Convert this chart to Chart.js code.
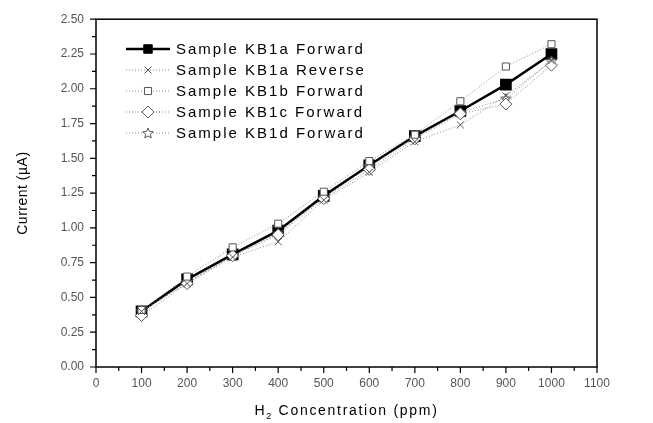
<!DOCTYPE html>
<html>
<head>
<meta charset="utf-8">
<script src="https://cdn.jsdelivr.net/npm/chart.js@4"></script>
<style>
  html, body { margin: 0; padding: 0; background: #fff; overflow: hidden; }
  #wrap { width: 653px; height: 423px; position: relative; }
</style>
</head>
<body>
<div id="wrap"><canvas id="ivChart"></canvas></div>
<script>
// H2 concentration (ppm)
const concentration = [100, 200, 300, 400, 500, 600, 700, 800, 900, 1000];

// Current (uA) per sample
const kb1aForward = [0.40, 0.63, 0.81, 0.98, 1.23, 1.45, 1.66, 1.84, 2.03, 2.25];
const kb1aReverse = [0.40, 0.60, 0.79, 0.90, 1.20, 1.40, 1.62, 1.74, 1.95, 2.20];
const kb1bForward = [0.41, 0.65, 0.86, 1.03, 1.26, 1.48, 1.67, 1.91, 2.16, 2.32];
const kb1cForward = [0.37, 0.60, 0.80, 0.95, 1.21, 1.42, 1.64, 1.82, 1.89, 2.17];
const kb1dForward = [0.40, 0.61, 0.80, 0.96, 1.22, 1.44, 1.65, 1.83, 1.93, 2.20];

const seriesLabels = [
  'Sample KB1a Forward',
  'Sample KB1a Reverse',
  'Sample KB1b Forward',
  'Sample KB1c Forward',
  'Sample KB1d Forward'
];

// axis ranges / ticks
const xMin = 0, xMax = 1100, xMajor = 100, xMinor = 50;
const yMin = 0, yMax = 2.5, yMajor = 0.25, yMinor = 0.125;

const FONT = '"Liberation Sans", Arial, sans-serif';
const GREY = '#8a8a8a';

function toPoints(ys) {
  return concentration.map((x, i) => ({ x: x, y: ys[i] }));
}

// open five-point star marker
function makeStar(size) {
  const c = document.createElement('canvas');
  c.width = size; c.height = size;
  const g = c.getContext('2d');
  const cx = size / 2, cy = size / 2 + 0.5, R = size / 2 - 0.5, r = R * 0.45;
  g.beginPath();
  for (let i = 0; i < 10; i++) {
    const a = -Math.PI / 2 + i * Math.PI / 5;
    const rad = i % 2 === 0 ? R : r;
    g.lineTo(cx + rad * Math.cos(a), cy + rad * Math.sin(a));
  }
  g.closePath();
  g.fillStyle = '#fff';
  g.fill();
  g.strokeStyle = '#555';
  g.lineWidth = 1;
  g.stroke();
  return c;
}
const starImg = makeStar(12);

// legend marker drawing (same shapes as the plot)
function drawMarker(ctx, style, r, x, y, fill, stroke) {
  ctx.save();
  ctx.fillStyle = fill;
  ctx.strokeStyle = stroke;
  ctx.lineWidth = 1;
  ctx.beginPath();
  if (style instanceof HTMLCanvasElement) {
    ctx.drawImage(style, x - style.width / 2, y - style.height / 2);
    ctx.restore();
    return;
  }
  const s = r / Math.SQRT2;
  if (style === 'rect') {
    ctx.rect(x - s, y - s, 2 * s, 2 * s);
    ctx.fill(); ctx.stroke();
  } else if (style === 'rectRot') {
    ctx.moveTo(x, y - r); ctx.lineTo(x + r, y); ctx.lineTo(x, y + r); ctx.lineTo(x - r, y);
    ctx.closePath();
    ctx.fill(); ctx.stroke();
  } else if (style === 'crossRot') {
    ctx.moveTo(x - s, y - s); ctx.lineTo(x + s, y + s);
    ctx.moveTo(x + s, y - s); ctx.lineTo(x - s, y + s);
    ctx.stroke();
  }
  ctx.restore();
}

const dotted = {
  borderColor: GREY,
  borderWidth: 1,
  borderDash: [1, 2],
  pointBorderColor: '#555',
  pointBackgroundColor: '#fff',
  pointBorderWidth: 1,
  tension: 0,
  order: 1
};

const datasets = [
  {
    label: seriesLabels[0],
    data: toPoints(kb1aForward),
    borderColor: '#000',
    borderWidth: 2.5,
    pointStyle: 'rect',
    pointRadius: 6.5,
    pointBackgroundColor: '#000',
    pointBorderColor: '#000',
    tension: 0,
    order: 10
  },
  Object.assign({}, dotted, { label: seriesLabels[1], data: toPoints(kb1aReverse), pointStyle: 'crossRot', pointRadius: 5 }),
  Object.assign({}, dotted, { label: seriesLabels[2], data: toPoints(kb1bForward), pointStyle: 'rect', pointRadius: 5 }),
  Object.assign({}, dotted, { label: seriesLabels[3], data: toPoints(kb1cForward), pointStyle: 'rectRot', pointRadius: 6 }),
  Object.assign({}, dotted, { label: seriesLabels[4], data: toPoints(kb1dForward), pointStyle: starImg, pointRadius: 6 })
];

// frame, minor/major ticks, titles and legend
const decorPlugin = {
  id: 'decor',
  afterDraw(chart) {
    const ctx = chart.ctx;
    const a = chart.chartArea;
    const xs = chart.scales.x, ys = chart.scales.y;
    ctx.save();
    ctx.strokeStyle = '#000';
    ctx.lineWidth = 1.5;
    ctx.strokeRect(a.left, a.top, a.right - a.left, a.bottom - a.top);

    ctx.lineWidth = 1.2;
    ctx.beginPath();
    for (let v = xMin; v <= xMax + 1e-9; v += xMinor) {
      const px = xs.getPixelForValue(v);
      const len = Math.abs(v / xMajor - Math.round(v / xMajor)) < 1e-6 ? 6 : 4;
      ctx.moveTo(px, a.bottom);
      ctx.lineTo(px, a.bottom + len);
    }
    for (let v = yMin; v <= yMax + 1e-9; v += yMinor) {
      const py = ys.getPixelForValue(v);
      const len = Math.abs(v / yMajor - Math.round(v / yMajor)) < 1e-6 ? 6 : 4;
      ctx.moveTo(a.left, py);
      ctx.lineTo(a.left - len, py);
    }
    ctx.stroke();

    // axis titles
    ctx.fillStyle = '#000';
    ctx.font = '14px ' + FONT;
    ctx.letterSpacing = '1.7px';
    ctx.textAlign = 'left';
    ctx.textBaseline = 'alphabetic';
    const xt1 = 'H', xt2 = '2', xt3 = ' Concentration (ppm)';
    const w1 = ctx.measureText(xt1).width;
    ctx.font = '9px ' + FONT;
    const w2 = ctx.measureText(xt2).width;
    ctx.font = '14px ' + FONT;
    const w3 = ctx.measureText(xt3).width;
    const tx = (a.left + a.right) / 2 - (w1 + w2 + w3) / 2;
    const ty = 415;
    ctx.fillText(xt1, tx, ty);
    ctx.font = '9px ' + FONT;
    ctx.fillText(xt2, tx + w1, ty + 4);
    ctx.font = '14px ' + FONT;
    ctx.fillText(xt3, tx + w1 + w2, ty);

    ctx.save();
    ctx.translate(27, (a.top + a.bottom) / 2);
    ctx.rotate(-Math.PI / 2);
    ctx.textAlign = 'center';
    ctx.letterSpacing = '0.5px';
    ctx.font = '14px ' + FONT;
    ctx.fillText('Current (\u00b5A)', 0, 0);
    ctx.restore();

    // legend
    const lx0 = 126, lx1 = 170, mx = 148, textX = 176;
    const rowY = [49, 70, 91, 112, 133];
    chart.data.datasets.forEach((ds, i) => {
      const y = rowY[i];
      ctx.save();
      ctx.strokeStyle = ds.borderColor;
      ctx.lineWidth = ds.borderWidth;
      ctx.setLineDash(ds.borderDash || []);
      ctx.beginPath();
      ctx.moveTo(lx0, y);
      ctx.lineTo(lx1, y);
      ctx.stroke();
      ctx.restore();
      drawMarker(ctx, ds.pointStyle, i === 0 ? 6 : ds.pointRadius, mx, y, ds.pointBackgroundColor, ds.pointBorderColor);
      ctx.save();
      ctx.font = '15px ' + FONT;
      ctx.letterSpacing = '2px';
      ctx.textAlign = 'left';
      ctx.textBaseline = 'middle';
      ctx.fillStyle = '#000';
      ctx.fillText(ds.label, textX, y + 1);
      ctx.restore();
    });
    ctx.restore();
  }
};

new Chart(document.getElementById('ivChart'), {
  type: 'line',
  data: { datasets: datasets },
  plugins: [decorPlugin],
  options: {
    responsive: true,
    maintainAspectRatio: false,
    animation: false,
    layout: { padding: { top: 12, right: 56, left: 0, bottom: 0 } },
    plugins: {
      legend: { display: false },
      tooltip: { enabled: false }
    },
    scales: {
      x: {
        type: 'linear',
        min: xMin,
        max: xMax,
        afterFit: (s) => { s.height = 56; },
        grid: { display: false, drawTicks: false },
        border: { display: false },
        ticks: {
          stepSize: xMajor,
          padding: 9,
          color: '#555',
          font: { family: FONT, size: 12 },
          maxRotation: 0,
          autoSkip: false,
          callback: (v) => String(v)
        }
      },
      y: {
        type: 'linear',
        min: yMin,
        max: yMax,
        afterFit: (s) => { s.width = 96; },
        grid: { display: false, drawTicks: false },
        border: { display: false },
        ticks: {
          stepSize: yMajor,
          padding: 12,
          color: '#555',
          font: { family: FONT, size: 12 },
          callback: (v) => v.toFixed(2)
        }
      }
    }
  }
});
</script>
</body>
</html>
